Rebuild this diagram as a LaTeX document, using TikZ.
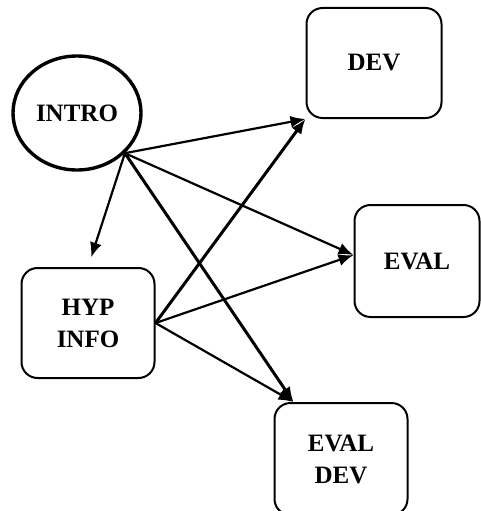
\documentclass[tikz,border=0pt]{standalone}
\usepackage{fontspec}
\setmainfont{Liberation Serif}
\usetikzlibrary{shapes.geometric,arrows.meta}

\begin{document}
\begin{tikzpicture}[x=1pt,y=-1pt,
    font=\bfseries\fontsize{25}{32}\selectfont,
    >={Latex[length=15pt,width=12pt]}]

      \useasboundingbox (0,0) rectangle (481,511);

      \node[ellipse,draw,line width=3.4pt,minimum width=128pt,minimum height=114pt] (intro) at (77,113) {INTRO};

      \begin{scope}[every node/.style={rectangle,draw,rounded corners=16pt,line width=2pt,align=center}]
        \node[minimum width=135pt,minimum height=110pt] (dev) at (374,63) {DEV};
        \node[minimum width=125pt,minimum height=112pt] (eval) at (417,261) {EVAL};
        \node[minimum width=133pt,minimum height=110pt] (hypinfo) at (88,323) {HYP\\INFO};
        \node[minimum width=133pt,minimum height=112pt] (evaldev) at (341,459) {EVAL\\DEV};
      \end{scope}

      \coordinate (out) at (intro.-40);

      \begin{scope}[every edge/.style={draw,->,line width=2.2pt}]
        \path (out) edge (dev.south west);
        \path (out) edge ([yshift=6pt]eval.west);
        \path (out) edge[shorten >=10pt] (hypinfo.north);
        \path (hypinfo.east) edge ([yshift=6pt]eval.west);
        \path (hypinfo.east) edge ([xshift=20pt]evaldev.north west);
      \end{scope}

      \begin{scope}[every edge/.style={draw,->,line width=3pt}]
        \path (out) edge ([xshift=20pt]evaldev.north west);
        \path (hypinfo.east) edge (dev.south west);
      \end{scope}

    \end{tikzpicture}
\end{document}
